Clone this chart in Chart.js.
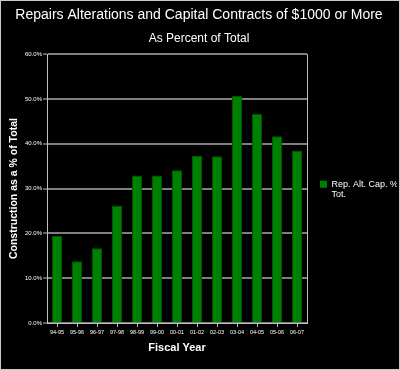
<!DOCTYPE html>
<html>
<head>
<meta charset="utf-8">
<script src="https://cdn.jsdelivr.net/npm/chart.js@4"></script>
<style>
  html, body { margin: 0; padding: 0; background: #000; }
  #wrap { width: 400px; height: 370px; box-sizing: border-box; border: 1px solid #c8c8c8; background: #000; }
  #myChart { display: block; }
</style>
</head>
<body>
<div id="wrap"><canvas id="myChart" width="398" height="368"></canvas></div>
<script>
var years = ['94-95', '95-96', '96-97', '97-98', '98-99', '99-00', '00-01',
             '01-02', '02-03', '03-04', '04-05', '05-06', '06-07'];
var repAltCapPct = [19.4, 13.8, 16.7, 26.2, 32.9, 32.9, 34.1,
                    37.3, 37.2, 50.7, 46.7, 41.7, 38.5];
var seriesName = 'Rep. Alt. Cap. % Tot.';
var legendLines = ['Rep. Alt. Cap. %', 'Tot.'];

var fontFam = "'Liberation Sans', Arial, sans-serif";
Chart.defaults.font.family = fontFam;
Chart.defaults.color = '#ffffff';

var ctx = document.getElementById('myChart').getContext('2d');
var myChart = new Chart(ctx, {
    type: 'bar',
    data: {
        labels: years,
        datasets: [{
            label: seriesName,
            data: repAltCapPct,
            backgroundColor: '#008000',
            borderColor: '#005500',
            borderWidth: 1,
            barPercentage: 0.5,
            categoryPercentage: 1.0
        }]
    },
    options: {
        responsive: false,
        animation: false,
        layout: { padding: { left: 0, right: 2, top: 0, bottom: 0 } },
        plugins: {
            title: {
                display: true,
                text: 'Repairs Alterations and Capital Contracts of $1000 or More',
                color: '#ffffff',
                font: { size: 14, weight: 'normal' },
                padding: { top: 6, bottom: 5 }
            },
            subtitle: {
                display: true,
                text: 'As Percent of Total',
                color: '#ffffff',
                font: { size: 12 },
                padding: { top: 3, bottom: 8 }
            },
            legend: {
                position: 'right',
                maxWidth: 90,
                // empty title only nudges the single item down a little
                title: { display: true, text: '', font: { size: 6 }, padding: { top: 1, bottom: 2 } },
                labels: {
                    color: '#ffffff',
                    boxWidth: 7,
                    boxHeight: 7,
                    padding: 13,
                    font: { size: 9, lineHeight: 1.15 },
                    generateLabels: function(chart) {
                        var items = Chart.defaults.plugins.legend.labels.generateLabels(chart);
                        items.forEach(function(it) { it.text = legendLines; it.lineWidth = 0; });
                        return items;
                    }
                }
            },
            tooltip: { enabled: false }
        },
        scales: {
            x: {
                grid: {
                    offset: false,
                    drawOnChartArea: false,
                    drawTicks: true,
                    tickLength: 4,
                    color: '#c0c0c0'
                },
                border: { color: '#c0c0c0', width: 1 },
                ticks: { color: '#ffffff', font: { size: 5.5 }, padding: 2, maxRotation: 0, autoSkip: false },
                title: {
                    display: true,
                    text: 'Fiscal Year',
                    color: '#ffffff',
                    font: { size: 11, weight: 'bold' },
                    padding: { top: 0, bottom: 14 }
                },
                afterFit: function(s) { s.height = 46; }
            },
            y: {
                min: 0,
                max: 60,
                ticks: {
                    stepSize: 10,
                    color: '#ffffff',
                    font: { size: 6 },
                    padding: 1,
                    callback: function(v) { return v.toFixed(1) + '%'; }
                },
                grid: {
                    color: '#7f7f7f',
                    lineWidth: 2,
                    tickColor: '#c0c0c0',
                    tickWidth: 1,
                    tickLength: 4
                },
                border: { color: '#c0c0c0', width: 1 },
                title: {
                    display: true,
                    text: 'Construction as a % of Total',
                    color: '#ffffff',
                    font: { size: 10.5, weight: 'bold' },
                    padding: { top: 7, bottom: 0 }
                },
                afterFit: function(s) { s.width = 46; }
            },
            yr: {
                position: 'right',
                min: 0,
                max: 60,
                ticks: { display: false },
                grid: { drawOnChartArea: false, drawTicks: false },
                border: { color: '#c0c0c0', width: 1, dash: [1, 1] },
                afterFit: function(s) { s.width = 0; }
            }
        }
    }
});
</script>
</body>
</html>
